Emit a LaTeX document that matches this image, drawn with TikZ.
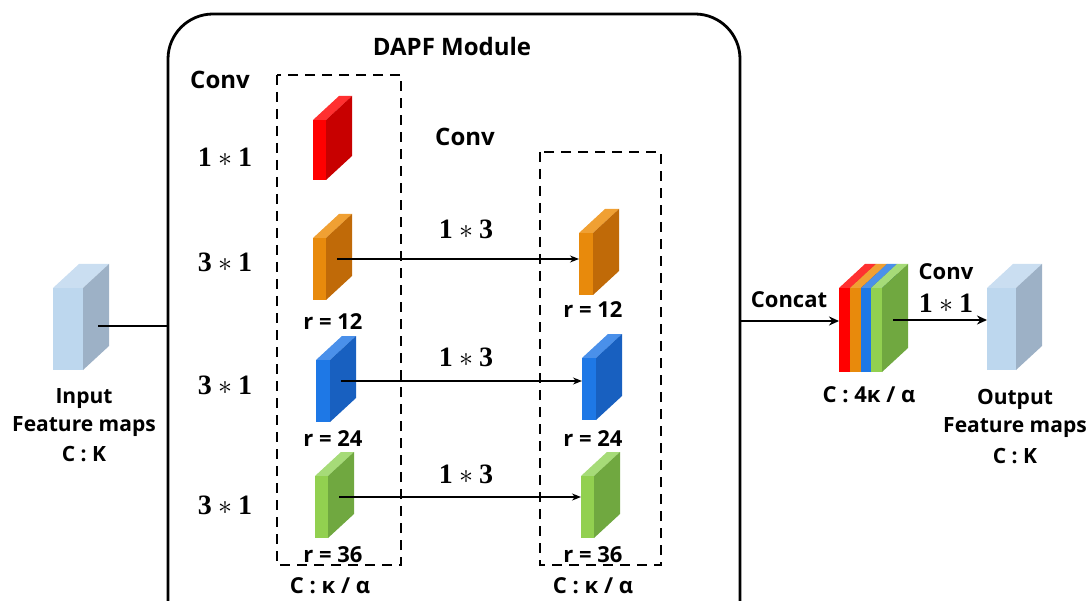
\RequirePackage{fix-cm}
\documentclass[tikz,border=0pt]{standalone}
\usepackage{fontspec}
\setmainfont{Open Sans}
\newfontfamily\numfont{Liberation Serif}
\usetikzlibrary{arrows.meta}

\definecolor{lightF}{HTML}{BDD7EE}
\definecolor{lightS}{HTML}{9DB1C6}
\definecolor{lightT}{HTML}{CADEF1}
\definecolor{redF}{HTML}{FF0000}
\definecolor{redS}{HTML}{C80000}
\definecolor{redT}{HTML}{FF3030}
\definecolor{orgF}{HTML}{E88A0C}
\definecolor{orgS}{HTML}{C06A08}
\definecolor{orgT}{HTML}{F0A033}
\definecolor{bluF}{HTML}{1E78E6}
\definecolor{bluS}{HTML}{1860C0}
\definecolor{bluT}{HTML}{4A90EA}
\definecolor{grnF}{HTML}{92D050}
\definecolor{grnS}{HTML}{70A840}
\definecolor{grnT}{HTML}{A6DB78}

% feature map slab: name, x, y (top of front face), width, height, colour set
\newcommand{\fmap}[6]{%
  \fill[#6T] (#2,#3) -- ++(26,-24) -- ++(#4,0) -- ++(-26,24) -- cycle;
  \fill[#6S] ({#2+#4},#3) -- ++(26,-24) -- ++(0,#5) -- ++(-26,24) -- cycle;
  \fill[#6F] (#2,#3) rectangle ++(#4,#5);
  \coordinate (#1) at ({#2+#4+11},{#3+#5/2-10});
  \coordinate (#1-in) at (#2,{#3+#5/2});
}
\newcommand{\ksize}[2]{#1\hspace{0.22em}$\ast$\hspace{0.22em}#2}

\begin{document}
\begin{tikzpicture}[x=1pt,y=-1pt,
  lbl/.style={font=\fontsize{22}{26}\selectfont\bfseries,inner sep=0pt},
  big/.style={font=\fontsize{24}{28}\selectfont\bfseries,inner sep=0pt},
  small/.style={font=\fontsize{21}{24}\selectfont\bfseries,inner sep=0pt},
  math/.style={font=\fontsize{28}{32}\selectfont\numfont\bfseries,inner sep=0pt},
  group/.style={line width=2.6pt,dash pattern=on 10pt off 7pt}]
\clip (0,0) rectangle (1091,601);

% module frame
\draw[line width=2.8pt,rounded corners=45pt] (168,14) rectangle (740,660);
\coordinate (fin) at (168,326);
\coordinate (fout) at (740,321);
\node[big] (title) at (452,47) {DAPF Module};
\node[big] (conv1) at (220,80) {Conv};
\node[big] (conv2) at (465,137) {Conv};

% dashed groups
\draw[group] (277,75) rectangle (401,565);
\draw[group] (540,152) rectangle (661,565);

% input
\fmap{inmap}{53}{288}{30}{82}{light}
\draw[line width=2.5pt] (98,326) -- (fin);
\node[small] (in1) at (84,399) {Input};
\node[small] (in2) at (84,427) {Feature maps};
\node[small] (in3) at (84,454) {C : K};

% first column
\fmap{a1}{313}{120}{13}{60}{red}
\fmap{a2}{313}{238}{13}{62}{org}
\fmap{a3}{316}{360}{14}{62}{blu}
\fmap{a4}{315}{476}{13}{62}{grn}
\node[math] (k1) at (225,157) {\ksize11};
\node[math] (k2) at (225,262) {\ksize31};
\node[math] (k3) at (225,385) {\ksize31};
\node[math] (k4) at (225,505) {\ksize31};
\node[lbl] (ra2) at (333,322) {r = 12};
\node[lbl] (ra3) at (333,439) {r = 24};
\node[lbl] (ra4) at (333,555) {r = 36};
\node[lbl] (ca) at (330,586) {C : κ / α};

% second column
\fmap{b2}{579}{233}{14}{62}{org}
\fmap{b3}{582}{358}{14}{62}{blu}
\fmap{b4}{581}{476}{13}{62}{grn}
\node[lbl] (rb2) at (593,310) {r = 12};
\node[lbl] (rb3) at (593,439) {r = 24};
\node[lbl] (rb4) at (593,555) {r = 36};
\node[lbl] (cb) at (593,586) {C : κ / α};

\foreach \i/\y in {2/229,3/357,4/474}{
  \draw[line width=1.3pt,-{Stealth[length=9pt,width=7pt]}] (a\i) -- (b\i-in |- a\i);
  \node[math] (s\i) at (466,\y) {\ksize13};
}

% concat
\fmap{c1}{839}{288}{11}{84}{red}
\fmap{c2}{850}{288}{11}{84}{org}
\fmap{c3}{861}{288}{10}{84}{blu}
\fmap{c4}{871}{288}{11}{84}{grn}
\draw[line width=2pt,-{Stealth[length=10pt,width=9pt]}] (fout) -- (c1-in |- fout);
\node[lbl] (cat) at (789,300) {Concat};
\node[lbl] (cc) at (869,395) {C : 4κ / α};

% output
\fmap{outmap}{987}{288}{29}{82}{light}
\draw[line width=2pt,-{Stealth[length=10pt,width=9pt]}] (c4) -- (outmap-in |- c4);
\node[lbl] (conv3) at (946,272) {Conv};
\node[math] (k5) at (946,303) {\ksize11};
\node[small] (out1) at (1015,399) {Output};
\node[small] (out2) at (1015,428) {Feature maps};
\node[small] (out3) at (1015,456) {C : K};
\end{tikzpicture}
\end{document}
